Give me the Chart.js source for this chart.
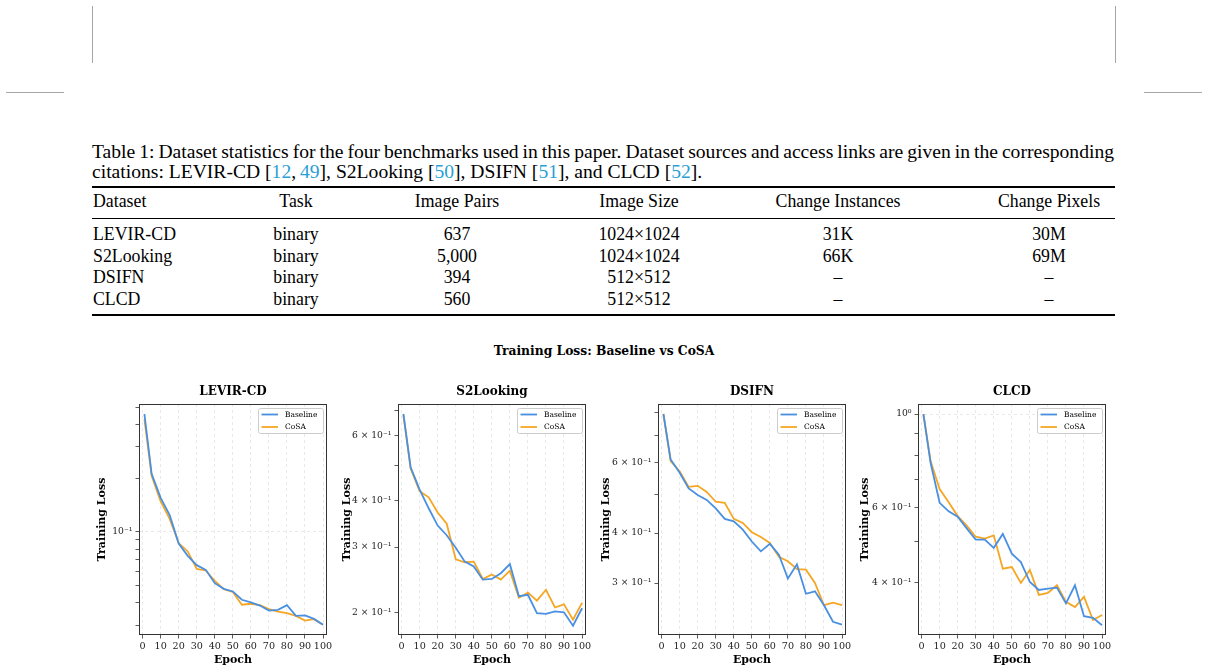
<!DOCTYPE html>
<html>
<head>
<meta charset="utf-8">
<title>Training Loss: Baseline vs CoSA</title>
<script src="https://cdn.jsdelivr.net/npm/chart.js@4.4.0/dist/chart.umd.min.js"></script>
<style>
  body { margin: 0; width: 1208px; height: 672px; position: relative; overflow: hidden; background: #fff; color: #000;
         font-family: "Liberation Serif", "Times New Roman", serif; }
  .mark { position: absolute; background: #a6a6a6; }
  .cap { position: absolute; left: 92px; font-size: 19.6px; line-height: 20px; white-space: nowrap; }
  .cell { position: absolute; width: 220px; text-align: center; font-size: 17.8px; line-height: 20px; white-space: nowrap; }
  .cell.first { text-align: left; }
  .rule { position: absolute; left: 92px; width: 1023px; background: #000; }
  .suptitle { position: absolute; left: 404px; width: 400px; top: 343px; text-align: center; line-height: 16px;
              font-family: "DejaVu Serif", serif; font-weight: bold; font-size: 12.3px; }
  .cite { color: #2a9fd6; }
  canvas { position: absolute; }
</style>
</head>
<body>

<div class="mark" style="left:92px;top:6px;width:1px;height:57px"></div>
<div class="mark" style="left:6px;top:92px;width:58px;height:1px"></div>
<div class="mark" style="left:1115px;top:6px;width:1px;height:57px"></div>
<div class="mark" style="left:1144px;top:92px;width:58px;height:1px"></div>

<div class="cap" id="cap1" style="top:142px">Table 1: Dataset statistics for the four benchmarks used in this paper. Dataset sources and access links are given in the corresponding</div>
<div class="cap" style="top:162px">citations: LEVIR-CD [<span class="cite">12</span>,&#8201;<span class="cite">49</span>], S2Looking [<span class="cite">50</span>], DSIFN [<span class="cite">51</span>], and CLCD [<span class="cite">52</span>].</div>

<div class="rule" style="top:186px;height:1.5px"></div>
<div class="rule" style="top:218px;height:1px"></div>
<div class="rule" style="top:314px;height:1.5px"></div>
<div id="table"></div>

<div class="suptitle">Training Loss: Baseline vs CoSA</div>

<script>
// ---- table ----
const tableHeader = ["Dataset", "Task", "Image Pairs", "Image Size", "Change Instances", "Change Pixels"];
const tableRows = [
  ["LEVIR-CD", "binary", "637", "1024×1024", "31K", "30M"],
  ["S2Looking", "binary", "5,000", "1024×1024", "66K", "69M"],
  ["DSIFN", "binary", "394", "512×512", "–", "–"],
  ["CLCD", "binary", "560", "512×512", "–", "–"]
];

// ---- training curves ----
const epochs = [1, 5, 10, 15, 20, 25, 30, 35, 40, 45, 50, 55, 60, 65, 70, 75, 80, 85, 90, 95, 100];
const xTicks = [0, 10, 20, 30, 40, 50, 60, 70, 80, 90, 100];
const seriesNames = ["Baseline", "CoSA"];
const seriesColors = ["#4a90e2", "#f5a623"];

const levirBaseline = [0.457, 0.211, 0.155, 0.124, 0.0860, 0.0733, 0.0650, 0.0612, 0.0515, 0.0479, 0.0463,
                       0.0416, 0.0402, 0.0386, 0.0362, 0.0365, 0.0388, 0.0338, 0.0340, 0.0325, 0.0301];
const levirCosa = [0.428, 0.206, 0.148, 0.118, 0.0864, 0.0776, 0.0620, 0.0607, 0.0531, 0.0477, 0.0460,
                   0.0390, 0.0395, 0.0388, 0.0369, 0.0357, 0.0350, 0.0338, 0.0318, 0.0324, 0.0301];
const s2Baseline = [0.687, 0.493, 0.429, 0.382, 0.343, 0.323, 0.299, 0.274, 0.266, 0.245, 0.246,
                    0.255, 0.270, 0.221, 0.223, 0.199, 0.198, 0.201, 0.200, 0.184, 0.205];
const s2Cosa = [0.682, 0.489, 0.425, 0.409, 0.372, 0.347, 0.278, 0.273, 0.274, 0.246, 0.253,
                0.245, 0.259, 0.219, 0.226, 0.215, 0.230, 0.206, 0.210, 0.191, 0.212];
const dsifnBaseline = [0.794, 0.611, 0.566, 0.517, 0.498, 0.484, 0.461, 0.434, 0.428, 0.408, 0.381,
                       0.360, 0.376, 0.353, 0.308, 0.334, 0.282, 0.286, 0.264, 0.240, 0.236];
const dsifnCosa = [0.794, 0.605, 0.571, 0.522, 0.525, 0.507, 0.479, 0.476, 0.434, 0.424, 0.402,
                   0.391, 0.378, 0.349, 0.340, 0.325, 0.324, 0.300, 0.264, 0.268, 0.264];
const clcdBaseline = [1.0, 0.766, 0.617, 0.589, 0.572, 0.537, 0.505, 0.505, 0.483, 0.521, 0.468,
                      0.447, 0.401, 0.384, 0.387, 0.389, 0.357, 0.394, 0.333, 0.330, 0.317];
const clcdCosa = [1.0, 0.773, 0.665, 0.619, 0.574, 0.545, 0.513, 0.508, 0.517, 0.431, 0.435,
                  0.399, 0.428, 0.374, 0.378, 0.394, 0.360, 0.350, 0.370, 0.326, 0.335];

// log-axis ticks (labels '' = unlabeled minor tick)
const levirTicks = [0.03, 0.04, 0.05, 0.06, 0.07, 0.08, 0.09, 0.1, 0.2, 0.3, 0.4, 0.5];
const levirTickLabels = ["", "", "", "", "", "", "", "10⁻¹", "", "", "", ""];
const s2Ticks = [0.2, 0.3, 0.4, 0.5, 0.6, 0.7];
const s2TickLabels = ["2 × 10⁻¹", "3 × 10⁻¹", "4 × 10⁻¹", "", "6 × 10⁻¹", ""];
const dsifnTicks = [0.3, 0.4, 0.5, 0.6, 0.7, 0.8];
const dsifnTickLabels = ["3 × 10⁻¹", "4 × 10⁻¹", "", "6 × 10⁻¹", "", ""];
const clcdTicks = [0.4, 0.5, 0.6, 0.7, 0.8, 0.9, 1.0];
const clcdTickLabels = ["4 × 10⁻¹", "", "6 × 10⁻¹", "", "", "", "10⁰"];
const majorTicks = [0.1, 1.0];

// build table text
const colCenters = [null, 296, 457, 639, 838, 1049];
const rowTops = [191, 224, 245.5, 267, 288.5];
const tbl = document.getElementById("table");
[tableHeader].concat(tableRows).forEach((row, r) => {
  row.forEach((txt, c) => {
    const d = document.createElement("div");
    d.className = "cell" + (c === 0 ? " first" : "");
    d.textContent = txt;
    d.style.top = rowTops[r] + "px";
    d.style.left = (c === 0 ? 93 : colCenters[c] - 110) + "px";
    tbl.appendChild(d);
  });
});

// justify first caption line to the text width
const cap1 = document.getElementById("cap1");
const spaces = cap1.textContent.split(" ").length - 1;
cap1.style.wordSpacing = ((1022 - cap1.getBoundingClientRect().width) / spaces) + "px";

// ---- charts ----
const FONT = "'DejaVu Serif', serif";
const BOX_W = 188, CANVAS_TOP = 378, CANVAS_BOTTOM = 667, PAD_TOP = 26, PAD_RIGHT = 12, X_AXIS_H = 32;

const panelDecor = {
  id: "panelDecor",
  afterDraw(chart, args, opts) {
    const { ctx, chartArea: a } = chart;
    ctx.save();
    // frame
    ctx.strokeStyle = "#333";
    ctx.lineWidth = 1;
    ctx.strokeRect(a.left + 0.5, a.top + 0.5, a.right - a.left - 1, a.bottom - a.top - 1);
    // title
    ctx.fillStyle = "#000";
    ctx.font = "bold 12px " + FONT;
    ctx.textAlign = "center";
    ctx.textBaseline = "middle";
    ctx.fillText(opts.text, (a.left + a.right) / 2, a.top - 12.5);
    // legend box in the upper right
    const w = 65, h = 25, x = a.right - 4 - w, y = a.top + 4;
    ctx.beginPath();
    if (ctx.roundRect) ctx.roundRect(x + 0.5, y + 0.5, w, h, 2); else ctx.rect(x + 0.5, y + 0.5, w, h);
    ctx.fillStyle = "rgba(255,255,255,0.85)";
    ctx.fill();
    ctx.strokeStyle = "#cccccc";
    ctx.lineWidth = 1;
    ctx.stroke();
    ctx.font = "7.5px " + FONT;
    ctx.textAlign = "left";
    chart.data.datasets.forEach((ds, k) => {
      const ly = y + 6.5 + k * 12.5;
      ctx.beginPath();
      ctx.moveTo(x + 3.5, ly);
      ctx.lineTo(x + 20, ly);
      ctx.strokeStyle = ds.borderColor;
      ctx.lineWidth = 1.8;
      ctx.stroke();
      ctx.fillStyle = "#000";
      ctx.fillText(ds.label, x + 27, ly + 0.5);
    });
    ctx.restore();
  }
};

const panels = [
  { title: "LEVIR-CD", baseline: levirBaseline, cosa: levirCosa, ticks: levirTicks, labels: levirTickLabels,
    yMin: 0.0264, yMax: 0.52, boxLeft: 139, yTitleX: 102.7 },
  { title: "S2Looking", baseline: s2Baseline, cosa: s2Cosa, ticks: s2Ticks, labels: s2TickLabels,
    yMin: 0.1736, yMax: 0.731, boxLeft: 398, yTitleX: 347.3 },
  { title: "DSIFN", baseline: dsifnBaseline, cosa: dsifnCosa, ticks: dsifnTicks, labels: dsifnTickLabels,
    yMin: 0.2224, yMax: 0.841, boxLeft: 658, yTitleX: 606.7 },
  { title: "CLCD", baseline: clcdBaseline, cosa: clcdCosa, ticks: clcdTicks, labels: clcdTickLabels,
    yMin: 0.3006, yMax: 1.056, boxLeft: 918, yTitleX: 866 }
];

panels.forEach((p) => {
  const canvasLeft = Math.round(p.yTitleX - 6.6);
  const yw = p.boxLeft - canvasLeft;
  const cv = document.createElement("canvas");
  cv.width = p.boxLeft + BOX_W + PAD_RIGHT - canvasLeft;
  cv.height = CANVAS_BOTTOM - CANVAS_TOP;
  cv.style.left = canvasLeft + "px";
  cv.style.top = CANVAS_TOP + "px";
  document.body.appendChild(cv);

  const series = [p.baseline, p.cosa];
  new Chart(cv, {
    type: "line",
    data: {
      datasets: series.map((vals, k) => ({
        label: seriesNames[k],
        data: epochs.map((e, j) => ({ x: e, y: vals[j] })),
        borderColor: seriesColors[k],
        backgroundColor: seriesColors[k],
        borderWidth: 1.8,
        pointRadius: 0,
        tension: 0,
        fill: false
      }))
    },
    options: {
      responsive: false,
      animation: false,
      devicePixelRatio: 1,
      layout: { padding: { top: PAD_TOP, right: PAD_RIGHT, bottom: 0, left: 0 } },
      plugins: {
        legend: { display: false },
        tooltip: { enabled: false },
        panelDecor: { text: p.title }
      },
      scales: {
        x: {
          type: "linear",
          min: -2,
          max: 102.2,
          bounds: "data",
          afterBuildTicks: (s) => { s.ticks = xTicks.map((v) => ({ value: v })); },
          afterFit: (s) => { s.height = X_AXIS_H; },
          ticks: { autoSkip: false, maxRotation: 0, minRotation: 0, padding: 2, color: "#222",
                   font: { family: FONT, size: 9.6 }, callback: (v) => String(v) },
          grid: { color: "rgba(0,0,0,0.11)", lineWidth: 0.8, tickLength: 3.5, tickColor: "#333", tickWidth: 0.8 },
          border: { display: false, dash: [3, 3] },
          title: { display: true, text: "Epoch", color: "#000", padding: 0,
                   font: { family: FONT, size: 11, weight: "bold" } }
        },
        y: {
          type: "logarithmic",
          min: p.yMin,
          max: p.yMax,
          bounds: "data",
          afterBuildTicks: (s) => { s.ticks = p.ticks.map((v) => ({ value: v })); },
          afterFit: (s) => { s.width = yw; },
          ticks: { autoSkip: false, padding: 3, color: "#222",
                   font: { family: FONT, size: 9.2 }, callback: (v, k) => p.labels[k] },
          grid: {
            color: (c) => (c.tick && majorTicks.includes(c.tick.value)) ? "rgba(0,0,0,0.11)" : "rgba(0,0,0,0)",
            lineWidth: 0.8, tickLength: 3.5, tickColor: "#333", tickWidth: 0.8
          },
          border: { display: false, dash: [3, 3] },
          title: { display: true, text: "Training Loss", color: "#000", padding: 0,
                   font: { family: FONT, size: 11, weight: "bold" } }
        }
      }
    },
    plugins: [panelDecor]
  });
});
</script>
</body>
</html>
